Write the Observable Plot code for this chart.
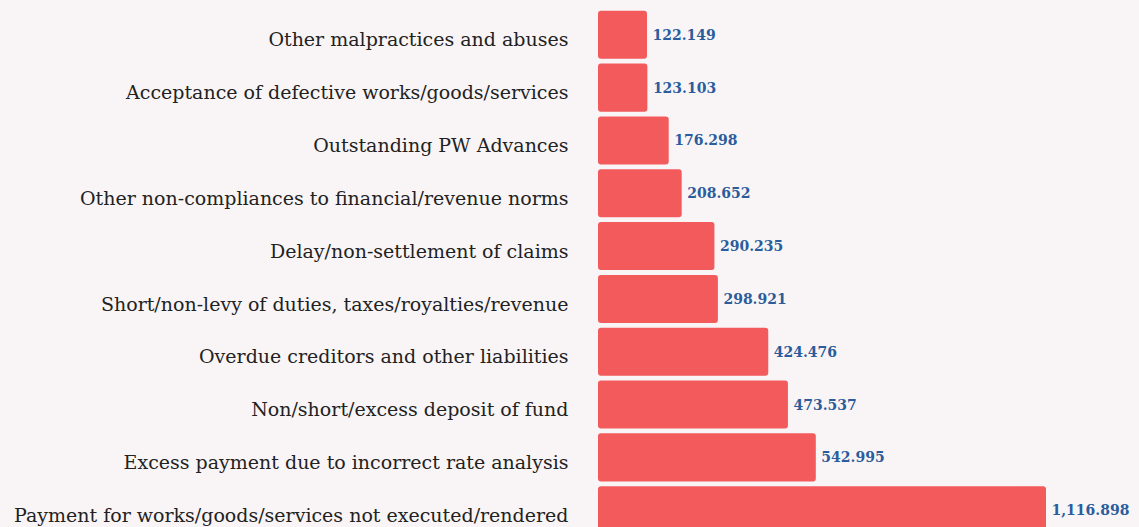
<!DOCTYPE html>
<html>
<head>
<meta charset="utf-8">
<script src="https://cdn.jsdelivr.net/npm/d3@7"></script>
<script src="https://cdn.jsdelivr.net/npm/@observablehq/plot@0.6"></script>
<style>
  html, body { margin: 0; padding: 0; background: #f9f5f6; overflow: hidden; }
  #chart svg { display: block; }
</style>
</head>
<body>
<div id="chart"></div>
<script>
const categories = [
  "Other malpractices and abuses",
  "Acceptance of defective works/goods/services",
  "Outstanding PW Advances",
  "Other non-compliances to financial/revenue norms",
  "Delay/non-settlement of claims",
  "Short/non-levy of duties, taxes/royalties/revenue",
  "Overdue creditors and other liabilities",
  "Non/short/excess deposit of fund",
  "Excess payment due to incorrect rate analysis",
  "Payment for works/goods/services not executed/rendered"
];
const values = [122.149, 123.103, 176.298, 208.652, 290.235, 298.921, 424.476, 473.537, 542.995, 1116.898];
const valueLabels = ["122.149", "123.103", "176.298", "208.652", "290.235", "298.921", "424.476", "473.537", "542.995", "1,116.898"];

const data = categories.map((c, i) => ({category: c, value: values[i], label: valueLabels[i]}));

const chart = Plot.plot({
  width: 1139,
  height: 539,
  marginLeft: 598,
  marginRight: 93,
  marginTop: 6,
  marginBottom: 0,
  style: {background: "#f9f5f6", fontFamily: "DejaVu Serif, serif", overflow: "visible"},
  x: {domain: [0, 1116.898], axis: null},
  y: {domain: categories, padding: 0.09, round: false, label: null, axis: null},
  marks: [
    Plot.barX(data, {x: "value", y: "category", fill: "#f25a5c", rx: 3}),
    Plot.text(data, {x: "value", y: "category", text: "label", textAnchor: "start", dx: 5, fill: "#2b5c9c", fontSize: 14, fontWeight: "bold"}),
    Plot.axisY({tickSize: 0, tickPadding: 30, fontSize: 19, label: null, fill: "#222", dy: 5})
  ]
});
document.getElementById("chart").appendChild(chart);
</script>
</body>
</html>
